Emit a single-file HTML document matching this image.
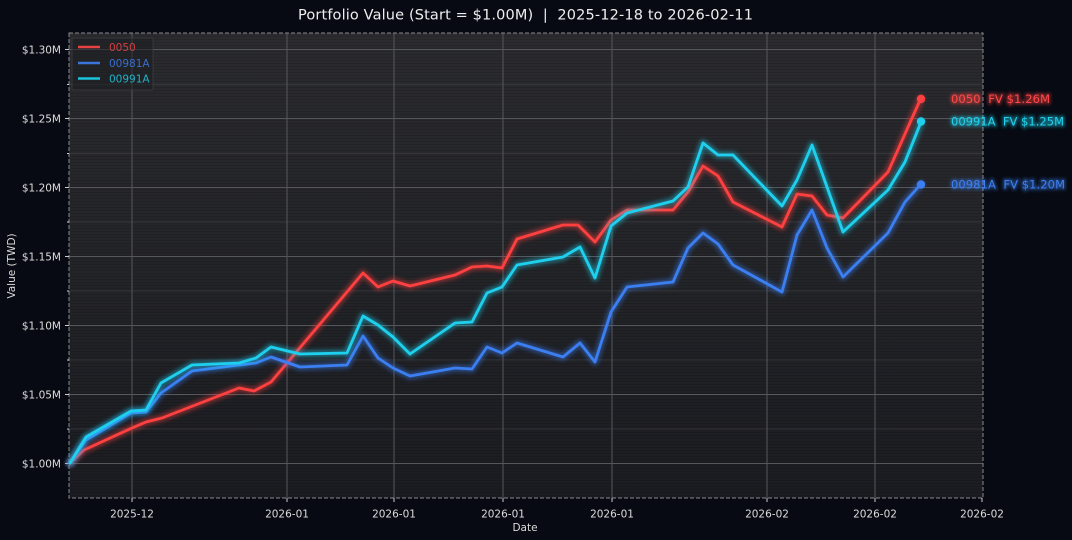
<!DOCTYPE html>
<html><head><meta charset="utf-8"><style>
html,body{margin:0;padding:0;background:#070a12;}
svg{display:block;font-family:"DejaVu Sans","Liberation Sans",sans-serif;}
text{white-space:pre;}
</style></head><body>
<svg width="1072" height="540" viewBox="0 0 1072 540" xmlns="http://www.w3.org/2000/svg" xml:space="preserve">
<defs>
<linearGradient id="bg" x1="0" y1="0" x2="0" y2="1">
<stop offset="0" stop-color="#2b2b2f"/>
<stop offset="0.5" stop-color="#232428"/>
<stop offset="1" stop-color="#1b1c21"/>
</linearGradient>
<pattern id="stripes" width="4" height="3" patternUnits="userSpaceOnUse">
<rect width="4" height="1" fill="#000" opacity="0.12"/>
</pattern>
<filter id="glow" x="-10%" y="-10%" width="120%" height="120%">
<feGaussianBlur stdDeviation="2.2"/>
</filter>
<filter id="tglow" x="-10%" y="-30%" width="120%" height="160%">
<feGaussianBlur stdDeviation="1.5"/>
</filter>
</defs>
<rect width="1072" height="540" fill="#070a12"/>
<rect x="69" y="33" width="914" height="465" fill="url(#bg)"/>
<rect x="69" y="33" width="914" height="465" fill="url(#stripes)"/>
<g stroke="#48494e" stroke-width="0.8" opacity="0.7">
<line x1="69" x2="983" y1="429" y2="429"/>
<line x1="69" x2="983" y1="360" y2="360"/>
<line x1="69" x2="983" y1="291" y2="291"/>
<line x1="69" x2="983" y1="222" y2="222"/>
<line x1="69" x2="983" y1="153.5" y2="153.5"/>
<line x1="69" x2="983" y1="84.5" y2="84.5"/>
</g>
<g stroke="#56575c" stroke-width="1">
<line x1="69" x2="983" y1="463.5" y2="463.5"/>
<line x1="69" x2="983" y1="394.5" y2="394.5"/>
<line x1="69" x2="983" y1="325.5" y2="325.5"/>
<line x1="69" x2="983" y1="256.5" y2="256.5"/>
<line x1="69" x2="983" y1="187.5" y2="187.5"/>
<line x1="69" x2="983" y1="118.5" y2="118.5"/>
<line x1="69" x2="983" y1="49.5" y2="49.5"/>
<line y1="33" y2="498" x1="132" x2="132"/>
<line y1="33" y2="498" x1="287" x2="287"/>
<line y1="33" y2="498" x1="394" x2="394"/>
<line y1="33" y2="498" x1="503" x2="503"/>
<line y1="33" y2="498" x1="612" x2="612"/>
<line y1="33" y2="498" x1="767" x2="767"/>
<line y1="33" y2="498" x1="875" x2="875"/>
</g>
<rect x="69" y="33" width="914" height="465" fill="none" stroke="#8a8b90" stroke-width="1" stroke-dasharray="4,2"/>
<g stroke="#cfcfcf" stroke-width="1">
<line x1="65" x2="69" y1="463.5" y2="463.5"/>
<line x1="65" x2="69" y1="394.5" y2="394.5"/>
<line x1="65" x2="69" y1="325.5" y2="325.5"/>
<line x1="65" x2="69" y1="256.5" y2="256.5"/>
<line x1="65" x2="69" y1="187.5" y2="187.5"/>
<line x1="65" x2="69" y1="118.5" y2="118.5"/>
<line x1="65" x2="69" y1="49.5" y2="49.5"/>
<line x1="67" x2="69" y1="429" y2="429"/>
<line x1="67" x2="69" y1="360" y2="360"/>
<line x1="67" x2="69" y1="291" y2="291"/>
<line x1="67" x2="69" y1="222" y2="222"/>
<line x1="67" x2="69" y1="153.5" y2="153.5"/>
<line x1="67" x2="69" y1="84.5" y2="84.5"/>
<line x1="132" x2="132" y1="498" y2="502"/>
<line x1="287" x2="287" y1="498" y2="502"/>
<line x1="394" x2="394" y1="498" y2="502"/>
<line x1="503" x2="503" y1="498" y2="502"/>
<line x1="612" x2="612" y1="498" y2="502"/>
<line x1="767" x2="767" y1="498" y2="502"/>
<line x1="875" x2="875" y1="498" y2="502"/>
<line x1="982" x2="982" y1="498" y2="502"/>
</g>
<g fill="#dcdcdc" font-size="10.5" text-anchor="end">
<text x="61" y="467.5">$1.00M</text>
<text x="61" y="398.5">$1.05M</text>
<text x="61" y="329.5">$1.10M</text>
<text x="61" y="260.5">$1.15M</text>
<text x="61" y="191.5">$1.20M</text>
<text x="61" y="122.5">$1.25M</text>
<text x="61" y="53.5">$1.30M</text>
</g>
<g fill="#dcdcdc" font-size="10.5" text-anchor="middle">
<text x="132" y="517.5">2025-12</text>
<text x="287" y="517.5">2026-01</text>
<text x="394" y="517.5">2026-01</text>
<text x="503" y="517.5">2026-01</text>
<text x="612" y="517.5">2026-01</text>
<text x="767" y="517.5">2026-02</text>
<text x="875" y="517.5">2026-02</text>
<text x="982" y="517.5">2026-02</text>
<text x="525" y="531">Date</text>
</g>
<text x="15" y="266" fill="#dcdcdc" font-size="10.5" text-anchor="middle" transform="rotate(-90 15 266)">Value (TWD)</text>
<text x="298" y="19.5" fill="#eeeeee" font-size="14.5" textLength="455" lengthAdjust="spacing">Portfolio Value (Start = $1.00M)  |  2025-12-18 to 2026-02-11</text>

<g fill="none" stroke-linejoin="round" stroke-linecap="round">
<polyline stroke="#ff4040" stroke-width="7" opacity="0.45" filter="url(#glow)" points="70,463 84,450 132,428 146,422 162,418 239,388 254,391 271,382 363,273 378,287 393,281 410,286 455,275 472,267 487,266 502,268 517,239 563,225 578,225 595,242 611,220 627,210 673,210 688,192 703,166 718,176 733,202 782,227 797,194 812,196 827,215 843,218 888,172 921,98"/>
<polyline stroke="#ff4040" stroke-width="2.8" points="70,463 84,450 132,428 146,422 162,418 239,388 254,391 271,382 363,273 378,287 393,281 410,286 455,275 472,267 487,266 502,268 517,239 563,225 578,225 595,242 611,220 627,210 673,210 688,192 703,166 718,176 733,202 782,227 797,194 812,196 827,215 843,218 888,172 921,98"/>
<polyline stroke="#3b7ff2" stroke-width="7" opacity="0.45" filter="url(#glow)" points="70,463 86,440 131,413 146,412 161,393 192,371 239,365 256,363 271,357 300,367 347,365 363,336 378,358 393,368 410,376 455,368 472,369 487,347 502,353 517,343 563,357 580,343 595,362 611,312 627,287 673,282 688,248 703,233 718,244 733,265 782,292 797,235 812,210 827,248 843,277 888,233 905,202 921,184"/>
<polyline stroke="#3b7ff2" stroke-width="2.8" points="70,463 86,440 131,413 146,412 161,393 192,371 239,365 256,363 271,357 300,367 347,365 363,336 378,358 393,368 410,376 455,368 472,369 487,347 502,353 517,343 563,357 580,343 595,362 611,312 627,287 673,282 688,248 703,233 718,244 733,265 782,292 797,235 812,210 827,248 843,277 888,233 905,202 921,184"/>
<polyline stroke="#1fd0ee" stroke-width="7" opacity="0.45" filter="url(#glow)" points="70,463 86,437 131,411 146,410 161,383 192,365 239,363 256,358 271,347 300,354 347,353 363,316 378,325 393,337 410,354 455,323 472,322 487,293 502,287 517,265 563,257 580,247 595,278 611,226 627,213 673,201 688,187 703,143 718,155 733,155 782,206 797,180 812,145 827,187 843,232 888,190 905,162 921,122"/>
<polyline stroke="#1fd0ee" stroke-width="2.8" points="70,463 86,437 131,411 146,410 161,383 192,365 239,363 256,358 271,347 300,354 347,353 363,316 378,325 393,337 410,354 455,323 472,322 487,293 502,287 517,265 563,257 580,247 595,278 611,226 627,213 673,201 688,187 703,143 718,155 733,155 782,206 797,180 812,145 827,187 843,232 888,190 905,162 921,122"/>
</g>
<circle cx="921" cy="99" r="4.2" fill="#ff4040"/>
<circle cx="921" cy="121.5" r="4.2" fill="#1fd0ee"/>
<circle cx="921" cy="184.5" r="4.2" fill="#3b7ff2"/>
<g font-size="11.5" lengthAdjust="spacing" opacity="0.45" filter="url(#tglow)" stroke-width="3">
<text x="951" y="103" fill="#ff4040" stroke="#ff4040" textLength="99">0050  FV $1.26M</text>
<text x="951" y="125.5" fill="#1fd0ee" stroke="#1fd0ee" textLength="113">00991A  FV $1.25M</text>
<text x="951" y="188.5" fill="#3b7ff2" stroke="#3b7ff2" textLength="114">00981A  FV $1.20M</text>
</g>
<g font-size="11.5" lengthAdjust="spacing">
<text x="951" y="103" fill="#ff4a4a" textLength="99">0050  FV $1.26M</text>
<text x="951" y="125.5" fill="#22d3ee" textLength="113">00991A  FV $1.25M</text>
<text x="951" y="188.5" fill="#3d80f5" textLength="114">00981A  FV $1.20M</text>
</g>
<rect x="72" y="38" width="81" height="52" fill="#1a1b20" fill-opacity="0.5" stroke="#3c3d42" stroke-width="0.8" rx="1"/>
<g stroke-width="2.6">
<line x1="78" x2="100" y1="47" y2="47" stroke="#e84343"/>
<line x1="78" x2="100" y1="63" y2="63" stroke="#3a74dc"/>
<line x1="78" x2="100" y1="78.5" y2="78.5" stroke="#1cc3dc"/>
</g>
<g font-size="10.5">
<text x="109" y="51" fill="#cf4040">0050</text>
<text x="109" y="67" fill="#3a6ecc">00981A</text>
<text x="109" y="82.5" fill="#1fb3c8">00991A</text>
</g>
</svg>
</body></html>
